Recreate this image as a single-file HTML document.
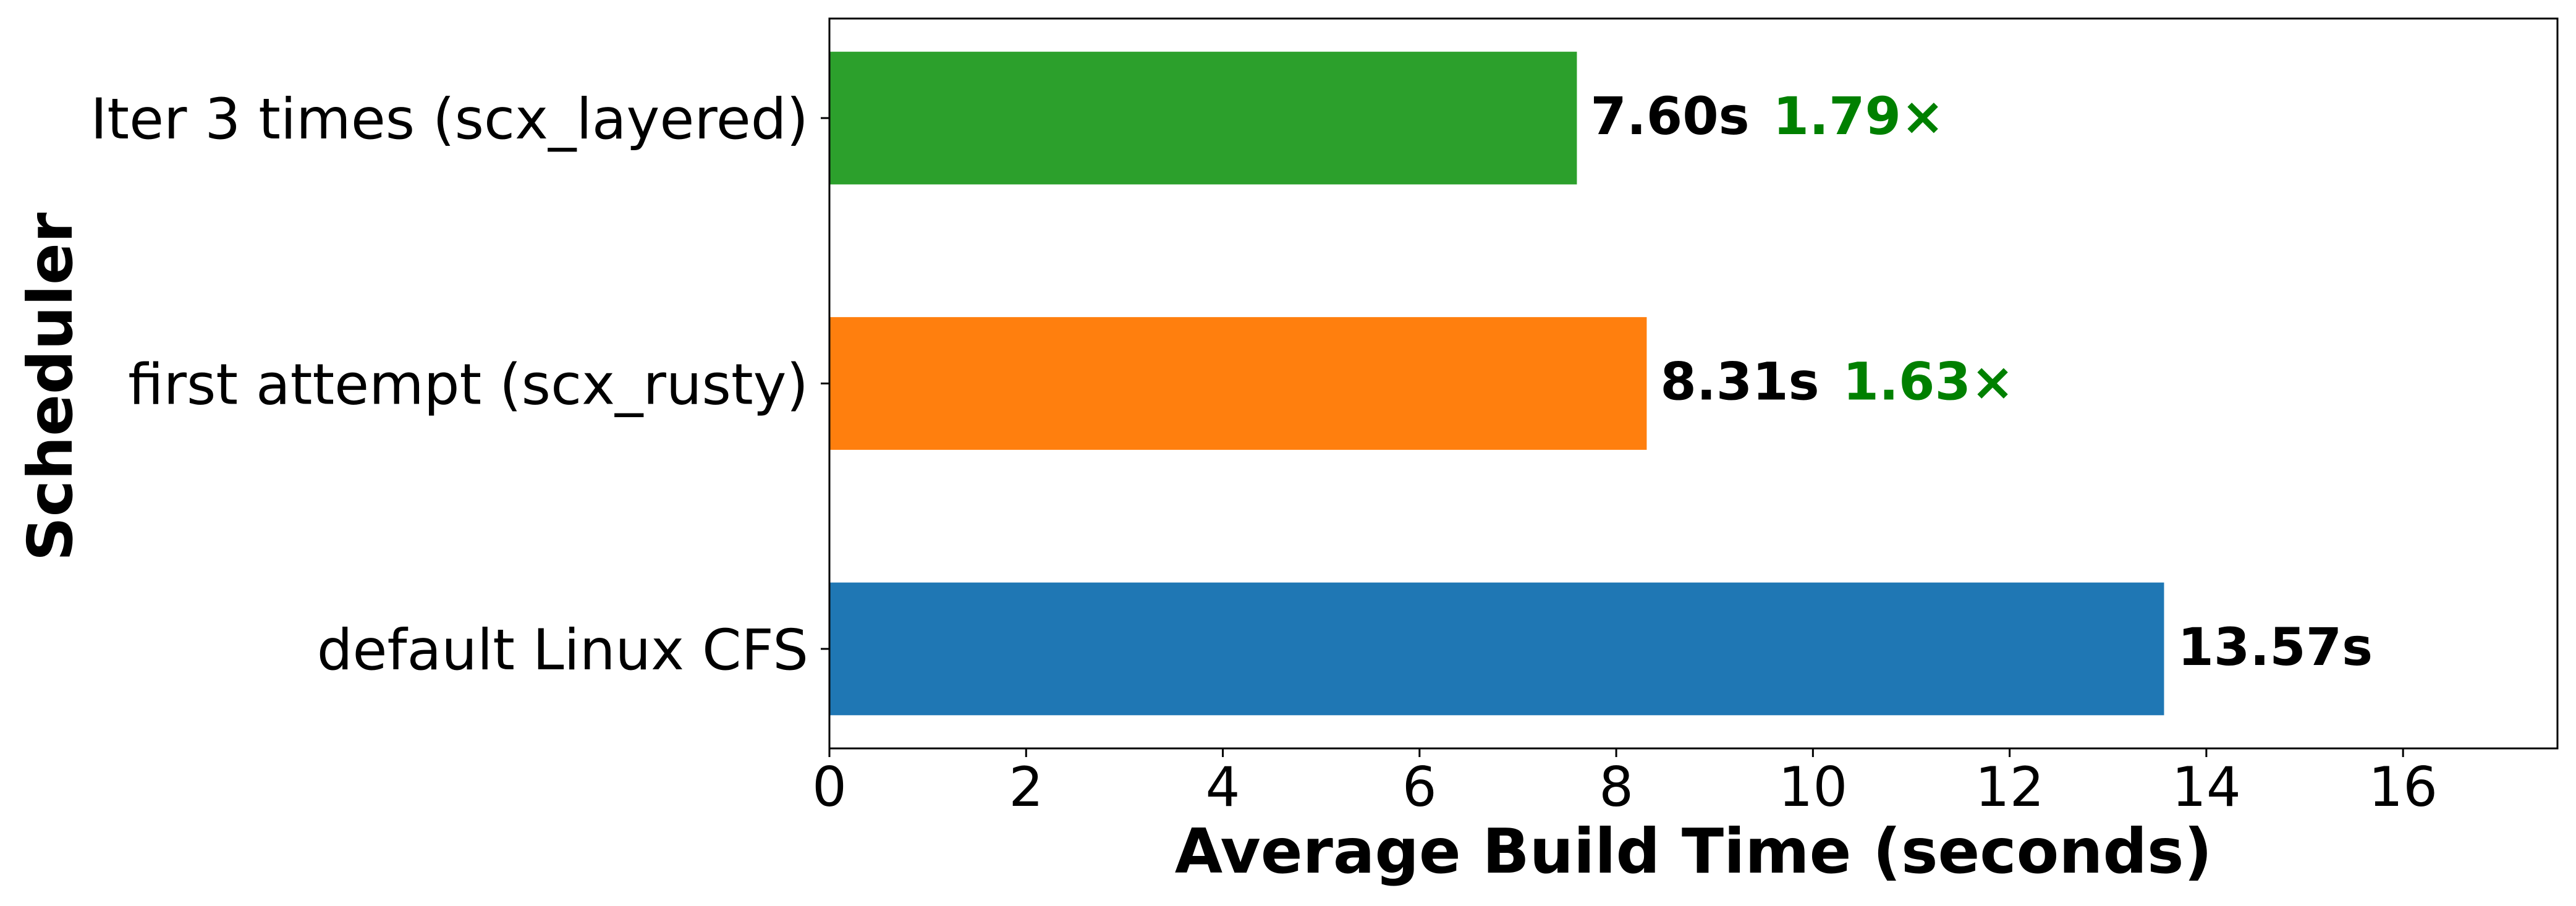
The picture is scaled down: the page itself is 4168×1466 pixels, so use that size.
<!DOCTYPE html>
<html><head><meta charset="utf-8"><style>
html,body{margin:0;padding:0;background:#fff;}
svg{display:block;font-family:"DejaVu Sans","Liberation Sans",sans-serif;}
</style></head><body>
<svg id="chart" width="4168" height="1466" viewBox="0 0 4168 1466" xmlns="http://www.w3.org/2000/svg">
<rect x="0" y="0" width="4168" height="1466" fill="#fff"/>
<g id="plot"></g>
<text x="2740" y="1412" text-anchor="middle" font-size="100" font-weight="bold">Average Build Time (seconds)</text>
<text transform="translate(116,626) rotate(-90)" text-anchor="middle" font-size="100" font-weight="bold">Scheduler</text>
</svg>
<script>
const categories = ["default Linux CFS", "first attempt (scx_rusty)", "Iter 3 times (scx_layered)"];
const values = [13.57, 8.31, 7.60];
const valueLabels = ["13.57s", "8.31s", "7.60s"];
const speedupLabels = ["", "1.63×", "1.79×"];
const colors = ["#1f77b4", "#ff7f0e", "#2ca02c"];
const xTicks = [0, 2, 4, 6, 8, 10, 12, 14, 16];

const L = 1342, R = 4138, T = 30, B = 1211;
const xMax = 17.57;
const x = v => L + (R - L) * v / xMax;
const y = i => B - (B - T) * (i + 0.375) / 2.75;
const bandPx = (B - T) / 2.75;
const NS = "http://www.w3.org/2000/svg";
const g = document.getElementById("plot");
function mk(tag, attrs, text) {
  const e = document.createElementNS(NS, tag);
  for (const k in attrs) e.setAttribute(k, attrs[k]);
  if (text !== undefined) e.textContent = text;
  g.appendChild(e);
  return e;
}
categories.forEach((c, i) => {
  const cy = y(i), h = bandPx * 0.5;
  const bar = mk("rect", {x: L, y: cy - h / 2, width: x(values[i]) - L, height: h, fill: colors[i]});
  
  
  const tk = mk("line", {x1: L - 14, x2: L, y1: cy, y2: cy, stroke: "#000", "stroke-width": 3});
  
  
  const lb = mk("text", {x: L - 34, y: cy + 33, "text-anchor": "end", "font-size": 91}, c);
  
  
  const vx = x(values[i]) + 22;
  const vl = mk("text", {x: vx, y: cy + 26, "font-size": 84, "font-weight": "bold", fill: "#000"}, valueLabels[i]);
  
  
  if (speedupLabels[i]) {
    const w = vl.getComputedTextLength();
    const sl = mk("text", {x: vx + w + 38, y: cy + 26, "font-size": 84, "font-weight": "bold", fill: "#008000"}, speedupLabels[i]);
    
    
  }
});
xTicks.forEach(t => {
  const tk = mk("line", {x1: x(t), x2: x(t), y1: B, y2: B + 14, stroke: "#000", "stroke-width": 3});
  
  
  const tl = mk("text", {x: x(t), y: 1304, "text-anchor": "middle", "font-size": 88}, String(t));
  
  
});
const frame = mk("rect", {x: L, y: T, width: R - L, height: B - T, fill: "none", stroke: "#000", "stroke-width": 3});


</script>
</body></html>
